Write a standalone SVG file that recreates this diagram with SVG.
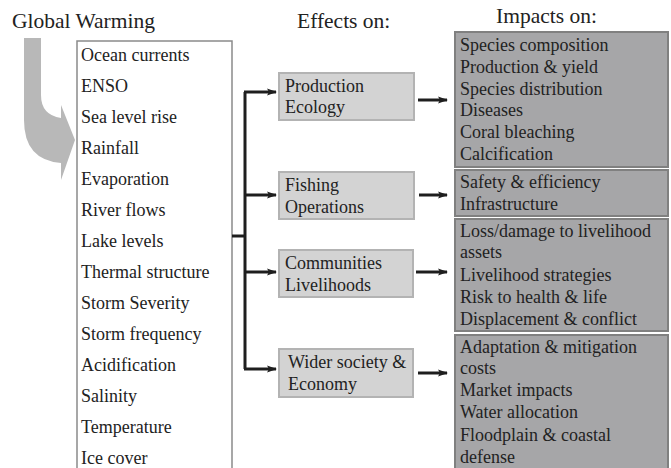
<svg xmlns="http://www.w3.org/2000/svg" width="671" height="468" viewBox="0 0 671 468">
<defs>
<style>
text{font-family:"Liberation Serif","Times New Roman",serif;fill:#222;}
.t{font-size:21.5px;}
.l{font-size:18px;}
.mid{fill:#d3d3d3;stroke:#b3b3b3;stroke-width:2;}
.imp{fill:#a6a6a8;stroke:#808080;stroke-width:2;}
.c{fill:none;stroke:#1e1e1e;stroke-width:3;}
</style>
<marker id="ah" markerWidth="10" markerHeight="8" refX="9" refY="4" orient="auto" markerUnits="userSpaceOnUse">
<path d="M0,0.5 L10,4 L0,7.5 L2,4 Z" fill="#1e1e1e"/>
</marker>
</defs>
<rect width="671" height="468" fill="#fff"/>
<g id="titles">
<text class="t" x="12" y="28">Global Warming</text>
<text class="t" x="297" y="28">Effects on:</text>
<text class="t" x="496" y="23">Impacts on:</text>
</g>
<g id="gw-arrow">
<path d="M24,38 L41,38 L41,95 Q41,115 61,118 L61,105 L75,140 L61,180 L61,163 Q24,160 24,120 Z" fill="#b8b8b8"/>
</g>
<g id="drivers">
<rect x="77" y="41" width="155" height="440" fill="#fff" stroke="#8a8a8a" stroke-width="1.5"/>
<text class="l" x="81" y="61">Ocean currents</text>
<text class="l" x="81" y="92">ENSO</text>
<text class="l" x="81" y="123">Sea level rise</text>
<text class="l" x="81" y="154">Rainfall</text>
<text class="l" x="81" y="185">Evaporation</text>
<text class="l" x="81" y="216">River flows</text>
<text class="l" x="81" y="247">Lake levels</text>
<text class="l" x="81" y="278">Thermal structure</text>
<text class="l" x="81" y="309">Storm Severity</text>
<text class="l" x="81" y="340">Storm frequency</text>
<text class="l" x="81" y="371">Acidification</text>
<text class="l" x="81" y="402">Salinity</text>
<text class="l" x="81" y="433">Temperature</text>
<text class="l" x="81" y="464">Ice cover</text>
</g>
<g id="connectors">
<path class="c" d="M232,236 H245"/>
<path class="c" d="M245,92 V369"/>
<path class="c" d="M244,92 H276" marker-end="url(#ah)"/>
<path class="c" d="M244,195 H276" marker-end="url(#ah)"/>
<path class="c" d="M244,272 H276" marker-end="url(#ah)"/>
<path class="c" d="M244,369 H276" marker-end="url(#ah)"/>
<path class="c" d="M418,100 H447" marker-end="url(#ah)"/>
<path class="c" d="M419,195 H447" marker-end="url(#ah)"/>
<path class="c" d="M416,272 H447" marker-end="url(#ah)"/>
<path class="c" d="M418,373 H447" marker-end="url(#ah)"/>
</g>
<g id="production-ecology">
<rect class="mid" x="279" y="73" width="135" height="47"/>
<text class="l" x="285" y="92">Production</text>
<text class="l" x="285" y="113">Ecology</text>
</g>
<g id="fishing-operations">
<rect class="mid" x="279" y="172" width="135" height="47"/>
<text class="l" x="285" y="191">Fishing</text>
<text class="l" x="285" y="213">Operations</text>
</g>
<g id="communities">
<rect class="mid" x="279" y="250" width="134" height="47"/>
<text class="l" x="285" y="269">Communities</text>
<text class="l" x="285" y="291">Livelihoods</text>
</g>
<g id="wider-society">
<rect class="mid" x="279" y="349" width="134" height="48"/>
<text class="l" x="288" y="368">Wider society &amp;</text>
<text class="l" x="288" y="390">Economy</text>
</g>
<g id="impacts-ecology">
<rect class="imp" x="455" y="32" width="213" height="135"/>
<text class="l" x="460" y="51">Species composition</text>
<text class="l" x="460" y="73">Production &amp; yield</text>
<text class="l" x="460" y="95">Species distribution</text>
<text class="l" x="460" y="116">Diseases</text>
<text class="l" x="460" y="138">Coral bleaching</text>
<text class="l" x="460" y="160">Calcification</text>
</g>
<g id="impacts-fishing">
<rect class="imp" x="455" y="170" width="213" height="46"/>
<text class="l" x="460" y="188">Safety &amp; efficiency</text>
<text class="l" x="460" y="210">Infrastructure</text>
</g>
<g id="impacts-communities">
<rect class="imp" x="455" y="219" width="213" height="112"/>
<text class="l" x="460" y="237">Loss/damage to livelihood</text>
<text class="l" x="460" y="258">assets</text>
<text class="l" x="460" y="281">Livelihood strategies</text>
<text class="l" x="460" y="303">Risk to health &amp; life</text>
<text class="l" x="460" y="325">Displacement &amp; conflict</text>
</g>
<g id="impacts-society">
<rect class="imp" x="455" y="335" width="213" height="145"/>
<text class="l" x="460" y="353">Adaptation &amp; mitigation</text>
<text class="l" x="460" y="374">costs</text>
<text class="l" x="460" y="396">Market impacts</text>
<text class="l" x="460" y="418">Water allocation</text>
<text class="l" x="460" y="441">Floodplain &amp; coastal</text>
<text class="l" x="460" y="463">defense</text>
</g>
</svg>
